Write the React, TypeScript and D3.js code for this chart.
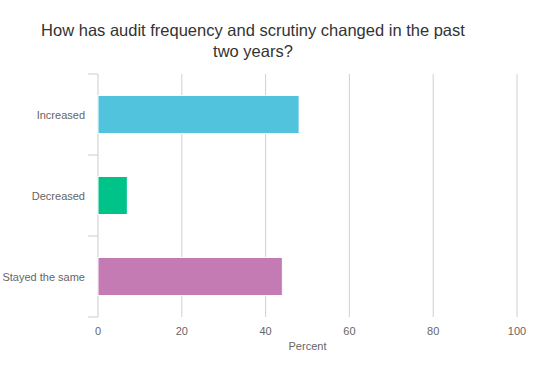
import React from "react";
import * as d3 from "d3";

const categories = ["Increased", "Decreased", "Stayed the same"];
const values = [48, 7, 44];
const colors = ["#52c3dd", "#00c389", "#c47bb3"];
const xTicks = [0, 20, 40, 60, 80, 100];
const titleLines = ["How has audit frequency and scrutiny changed in the past", "two years?"];
const xTitle = "Percent";

export default function App() {
  const W = 544, H = 377;
  const left = 98, right = 517, top = 74, bottom = 317;
  const x = d3.scaleLinear().domain([0, 100]).range([left, right]);
  const y = d3.scaleBand().domain(categories).range([top, bottom]).paddingInner(0.53).paddingOuter(0.265);
  const band = d3.scaleBand().domain(categories).range([top, bottom]);
  const font = "'Liberation Sans', Arial, sans-serif";
  return (
    <svg width={W} height={H} style={{ position: "absolute", left: 0, top: 0, background: "#fff" }} fontFamily={font}>
      <rect width={W} height={H} fill="#fff" />
      {titleLines.map((t, i) => (
        <text key={i} x={253} y={36 + i * 21} textAnchor="middle" fontSize={16.5} fill="#333">{t}</text>
      ))}
      {xTicks.filter(t => t > 0).map(t => (
        <line key={t} x1={x(t)} x2={x(t)} y1={top} y2={bottom} stroke="#d0d0d0" strokeWidth={1} />
      ))}
      <line x1={left} x2={left} y1={top} y2={bottom} stroke="#ccc" />
      {[...categories.map(c => band(c)!), bottom].map((v, i) => (
        <line key={i} x1={left - 10} x2={left} y1={v} y2={v} stroke="#ccc" />
      ))}
      {categories.map((c, i) => (
        <rect key={c} x={x(0)} y={y(c)} width={x(values[i]) - x(0)} height={y.bandwidth()} fill={colors[i]} stroke="#fff" strokeWidth={1} />
      ))}
      {categories.map(c => (
        <text key={c} x={left - 13} y={y(c)! + y.bandwidth() / 2 + 4} textAnchor="end" fontSize={11} fill="#666">{c}</text>
      ))}
      {xTicks.map(t => (
        <text key={t} x={x(t)} y={335} textAnchor="middle" fontSize={11} fill="#666">{t}</text>
      ))}
      <text x={(left + right) / 2} y={350} textAnchor="middle" fontSize={11} fill="#666">{xTitle}</text>
    </svg>
  );
}
